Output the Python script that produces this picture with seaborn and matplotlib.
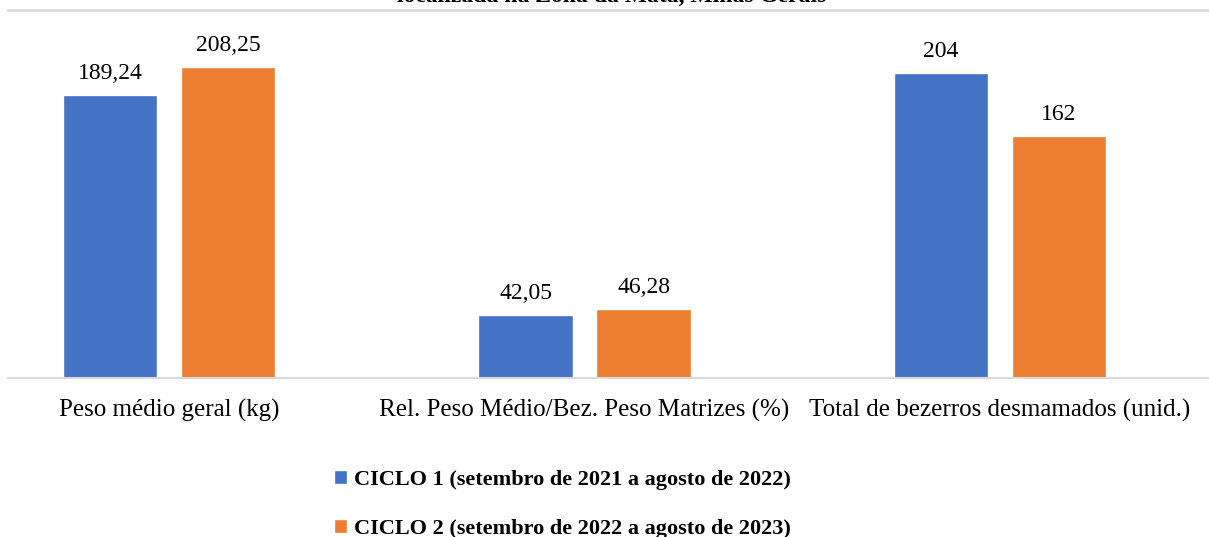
import matplotlib
matplotlib.use("Agg")
import matplotlib.pyplot as plt
import seaborn as sns
import pandas as pd

# Data
categories = ["Peso médio geral (kg)",
              "Rel. Peso Médio/Bez. Peso Matrizes (%)",
              "Total de bezerros desmamados (unid.)"]
ciclo1 = [189.24, 42.05, 204]
ciclo2 = [208.25, 46.28, 162]
ciclo1_labels = ["189,24", "42,05", "204"]
ciclo2_labels = ["208,25", "46,28", "162"]
series = ["CICLO 1 (setembro de 2021 a agosto de 2022)",
          "CICLO 2 (setembro de 2022 a agosto de 2023)"]
title = "localizada na Zona da Mata, Minas Gerais"

df = pd.DataFrame({
    "categoria": categories * 2,
    "valor": ciclo1 + ciclo2,
    "ciclo": [series[0]] * 3 + [series[1]] * 3,
})

sns.set_style("white")
plt.rcParams["font.family"] = ["Liberation Serif", "DejaVu Serif"]
plt.rcParams["text.color"] = "black"
plt.rcParams["xtick.color"] = "black"

fig = plt.figure(figsize=(12.09, 5.37), dpi=100)
ax = fig.add_axes([8 / 1209, 1 - 378 / 537, 1 - 8 / 1209, (378 - 10) / 537])

sns.barplot(data=df, x="categoria", y="valor", hue="ciclo",
            palette=["#4472C4", "#ED7D31"], width=0.568, gap=0.2,
            saturation=1, ax=ax)

for cont, labs in zip(ax.containers, [ciclo1_labels, ciclo2_labels]):
    ax.bar_label(cont, labels=labs, padding=8, fontsize=17, color="black")

ax.set_ylim(0, 246.3)
ax.set_xlim(-0.3875, 2.503)
ax.set_xlabel("")
ax.set_ylabel("")
ax.set_yticks([])
ax.tick_params(axis="x", length=0, pad=15, labelsize=18, labelcolor="black")
for s in ["left", "right"]:
    ax.spines[s].set_visible(False)
ax.spines["bottom"].set_color("#D9D9D9")
ax.spines["bottom"].set_linewidth(1.5)
ax.spines["top"].set_color("#D9D9D9")
ax.spines["top"].set_linewidth(2)

leg = ax.legend(loc="upper center", bbox_to_anchor=(562 / 1209, 1 - 450 / 537),
                bbox_transform=fig.transFigure, frameon=False, ncol=1,
                prop={"weight": "bold", "size": 16}, handlelength=0.6,
                handleheight=0.6, handletextpad=0.3, labelspacing=1.3)
for t in leg.get_texts():
    t.set_color("black")

fig.text(612 / 1209, 1.006, title, ha="center", va="center",
         fontsize=17, fontweight="bold", color="black")

fig.savefig("out.png", dpi=100)
